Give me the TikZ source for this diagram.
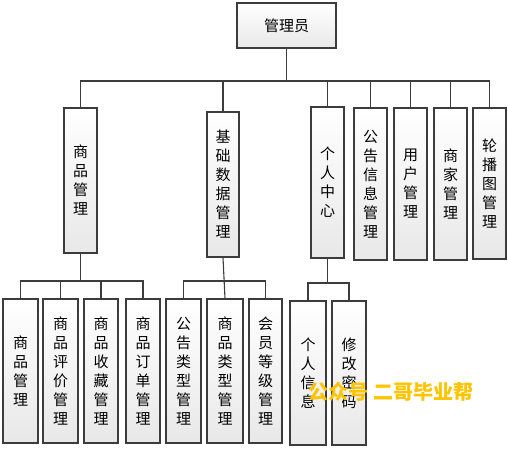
\documentclass[tikz,border=0pt]{standalone}
\usepackage{fontspec}
\setmainfont{Noto Sans CJK SC}
\usetikzlibrary{shadows}
\definecolor{edge}{HTML}{3C3C3C}
\definecolor{wm}{HTML}{FFC400}
\tikzset{
  box/.style={draw=edge, line width=1.1pt, top color=white, bottom color=black!9,
    inner sep=0pt, align=center,
    font=\fontsize{15}{19}\selectfont,
    drop shadow={shadow xshift=1.2pt, shadow yshift=-1.2pt, opacity=0.12, fill=black!60}},
  conn/.style={draw=edge, line width=1.1pt}
}
\begin{document}
\begin{tikzpicture}[x=1pt,y=-1pt]
\useasboundingbox (0,0) rectangle (508,449);
% top
\node[box, minimum width=99pt, minimum height=45pt] (top) at (286.5,25.5) {管理员};
% level 1
\node[box, minimum width=33pt, minimum height=145pt] (a1) at (80.5,180.5) {商\\品\\管\\理};
\node[box, minimum width=32pt, minimum height=145pt] (a2) at (223,184.5) {基\\础\\数\\据\\管\\理};
\node[box, minimum width=33pt, minimum height=151pt] (a3) at (327.5,182.5) {个\\人\\中\\心};
\node[box, minimum width=33pt, minimum height=152pt] (a4) at (370.5,184) {公\\告\\信\\息\\管\\理};
\node[box, minimum width=33pt, minimum height=152pt] (a5) at (410.5,184) {用\\户\\管\\理};
\node[box, minimum width=33pt, minimum height=152pt] (a6) at (450.5,184) {商\\家\\管\\理};
\node[box, minimum width=33pt, minimum height=151pt] (a7) at (489.5,183.5) {轮\\播\\图\\管\\理};
% level 2
\node[box, minimum width=35pt, minimum height=144pt] (b1) at (20.5,371) {商\\品\\管\\理};
\node[box, minimum width=35pt, minimum height=144pt] (b2) at (60.5,371) {商\\品\\评\\价\\管\\理};
\node[box, minimum width=34pt, minimum height=144pt] (b3) at (101,371) {商\\品\\收\\藏\\管\\理};
\node[box, minimum width=34pt, minimum height=144pt] (b4) at (143,371) {商\\品\\订\\单\\管\\理};
\node[box, minimum width=35pt, minimum height=144pt] (b5) at (183.5,371) {公\\告\\类\\型\\管\\理};
\node[box, minimum width=36pt, minimum height=144pt] (b6) at (225,371) {商\\品\\类\\型\\管\\理};
\node[box, minimum width=33pt, minimum height=144pt] (b7) at (265.5,371) {会\\员\\等\\级\\管\\理};
\node[box, minimum width=36pt, minimum height=144pt] (c1) at (308,373) {个\\人\\信\\息};
\node[box, minimum width=34pt, minimum height=144pt] (c2) at (349,373) {修\\改\\密\\码};
% buses
\coordinate (bus1) at (0,81);
\coordinate (bus2) at (0,281);
\coordinate (bus3) at (0,283);
% connectors level 1
\draw[conn] (top.south) -- (top.south |- bus1);
\draw[conn] (a1.north) -- (a1.north |- bus1) -- (a7.north |- bus1) -- (a7.north);
\foreach \n in {a2,a3,a4,a5,a6} \draw[conn] (\n.north) -- (\n.north |- bus1);
% connectors under a1
\draw[conn] (a1.south) -- (a1.south |- bus2);
\draw[conn] (b1.north) -- (b1.north |- bus2) -- (b4.north |- bus2) -- (b4.north);
\foreach \n in {b2,b3} \draw[conn] (\n.north) -- (\n.north |- bus2);
% connectors under a2
\draw[conn] (a2.south) -- (b6.north);
\draw[conn] (b5.north) -- (b5.north |- bus2) -- (b7.north |- bus2) -- (b7.north);
% connectors under a3
\draw[conn] (a3.south) -- (a3.south |- bus3);
\draw[conn] (c1.north) -- (c1.north |- bus3) -- (c2.north |- bus3) -- (c2.north);
% watermark
\node[text=wm, font=\fontsize{20}{20}\selectfont\bfseries, inner sep=0pt] (wmk) at (391,392) {公众号 二哥毕业帮};
\end{tikzpicture}
\end{document}
